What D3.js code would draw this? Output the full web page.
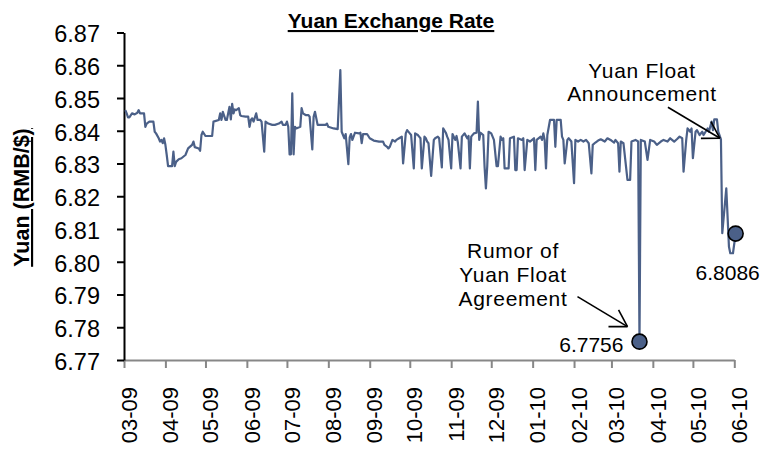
<!DOCTYPE html>
<html>
<head>
<meta charset="utf-8">
<script src="https://cdn.jsdelivr.net/npm/d3@7"></script>
<style>
  body { margin: 0; background: #fff; }
  svg text { font-family: "Liberation Sans", Arial, sans-serif; fill: #000; }
</style>
</head>
<body>
<svg id="chart" width="762" height="450"></svg>
<script>
// daily yuan rate, as [days since seriesStart, RMB per USD]
const seriesStart = "2009-03-01";
const seriesEnd = "2010-06-01";
const rateSeries = [
  [1,6.8463],[2,6.8453],[3,6.8441],[4,6.8441],[6,6.8453],[8,6.8450],[10,6.8455],[11,6.8463],[12,6.8453],[15,6.8453],
  [16,6.8412],[17,6.8422],[19,6.8428],[22,6.8428],[23,6.8397],[24,6.8392],[26,6.8377],[27,6.8367],[28,6.8372],[29,6.8362],
  [30,6.8377],[31,6.8357],[32,6.8326],[33,6.8292],[36,6.8292],[37,6.8336],[38,6.8292],[39,6.8305],[41,6.8313],[43,6.8316],
  [46,6.8326],[48,6.8346],[51,6.8357],[52,6.8367],[53,6.8350],[56,6.8346],[57,6.8339],[58,6.8387],[59,6.8397],[61,6.8384],
  [66,6.8384],[67,6.8428],[71,6.8433],[72,6.8453],[73,6.8433],[74,6.8458],[76,6.8433],[77,6.8433],[79,6.8473],[80,6.8435],
  [81,6.8482],[82,6.8453],[83,6.8465],[84,6.8463],[86,6.8469],[87,6.8448],[88,6.8445],[91,6.8443],[93,6.8443],[94,6.8412],
  [95,6.8433],[96,6.8438],[97,6.8428],[99,6.8453],[100,6.8433],[102,6.8433],[103,6.8428],[105,6.8336],[106,6.8428],[108,6.8422],
  [111,6.8418],[113,6.8418],[116,6.8422],[118,6.8428],[119,6.8418],[121,6.8418],[122,6.8428],[123,6.8412],[124,6.8328],[125,6.8328],
  [126,6.8514],[127,6.8328],[128,6.8412],[129,6.8407],[132,6.8412],[133,6.8469],[134,6.8453],[136,6.8448],[138,6.8448],[139,6.8443],
  [141,6.8343],[142,6.8443],[143,6.8458],[145,6.8418],[151,6.8418],[152,6.8422],[153,6.8412],[157,6.8407],[160,6.8405],[162,6.8585],
  [163,6.8397],[164,6.8387],[165,6.8377],[166,6.8390],[168,6.8298],[169,6.8380],[170,6.8390],[171,6.8372],[173,6.8394],[176,6.8392],
  [177,6.8394],[178,6.8362],[179,6.8390],[182,6.8390],[184,6.8377],[187,6.8370],[191,6.8367],[194,6.8367],[195,6.8357],[197,6.8351],
  [198,6.8346],[199,6.8351],[201,6.8372],[203,6.8367],[204,6.8372],[206,6.8377],[208,6.8382],[209,6.8300],[211,6.8392],[212,6.8402],
  [214,6.8392],[215,6.8387],[217,6.8285],[218,6.8392],[220,6.8387],[221,6.8382],[222,6.8377],[223,6.8285],[225,6.8382],[226,6.8377],
  [227,6.8367],[228,6.8362],[230,6.8262],[232,6.8372],[233,6.8377],[235,6.8382],[236,6.8377],[238,6.8288],[239,6.8407],[241,6.8394],
  [242,6.8382],[243,6.8372],[245,6.8285],[246,6.8390],[248,6.8372],[249,6.8384],[250,6.8364],[252,6.8285],[253,6.8382],[255,6.8392],
  [257,6.8377],[258,6.8384],[259,6.8285],[260,6.8382],[262,6.8392],[264,6.8394],[265,6.8489],[266,6.8372],[267,6.8394],[269,6.8387],
  [270,6.8290],[271,6.8224],[272,6.8292],[273,6.8397],[275,6.8392],[277,6.8372],[279,6.8292],[280,6.8292],[282,6.8382],[283,6.8372],
  [284,6.8377],[285,6.8285],[288,6.8285],[289,6.8377],[292,6.8382],[293,6.8280],[294,6.8280],[295,6.8377],[298,6.8372],[299,6.8377],
  [300,6.8280],[302,6.8372],[304,6.8367],[307,6.8377],[308,6.8280],[309,6.8372],[312,6.8382],[313,6.8372],[314,6.8392],[315,6.8372],
  [316,6.8285],[317,6.8387],[319,6.8433],[322,6.8433],[323,6.8351],[324,6.8433],[327,6.8433],[328,6.8382],[329,6.8372],[330,6.8300],
  [332,6.8372],[333,6.8377],[335,6.8367],[337,6.8240],[338,6.8372],[340,6.8367],[342,6.8372],[344,6.8367],[346,6.8372],[348,6.8362],
  [350,6.8270],[351,6.8357],[353,6.8364],[355,6.8370],[357,6.8374],[360,6.8367],[362,6.8377],[365,6.8370],[367,6.8364],[368,6.8372],
  [370,6.8362],[371,6.8275],[372,6.8367],[374,6.8362],[377,6.8250],[379,6.8250],[380,6.8367],[383,6.8372],[385,6.8367],[386,6.7756],
  [387,6.8372],[390,6.8367],[392,6.8311],[394,6.8372],[397,6.8367],[399,6.8357],[402,6.8367],[404,6.8372],[407,6.8367],[409,6.8377],
  [412,6.8367],[414,6.8374],[416,6.8382],[418,6.8377],[419,6.8275],[421,6.8372],[422,6.8407],[424,6.8397],[425,6.8407],[426,6.8316],
  [428,6.8397],[429,6.8402],[431,6.8387],[433,6.8397],[434,6.8387],[437,6.8407],[438,6.8397],[440,6.8428],[441,6.8402],[442,6.8435],
  [444,6.8435],[445,6.8397],[447,6.8374],[448,6.8087],[451,6.8224],[453,6.8046],[454,6.8026],[456,6.8026],[458,6.8086]
];

const monthLabels = ["03-09","04-09","05-09","06-09","07-09","08-09","09-09","10-09",
                     "11-09","12-09","01-10","02-10","03-10","04-10","05-10","06-10"];
const yTicks = [6.77, 6.78, 6.79, 6.80, 6.81, 6.82, 6.83, 6.84, 6.85, 6.86, 6.87];

// highlighted points (day index) and their annotations
const markedDays = [386, 458];
const rumorDay = 386, floatDay = 447;
const rumorLines = ["Rumor of", "Yuan Float", "Agreement"];
const floatLines = ["Yuan Float", "Announcement"];

const lineColor = "#4b6088";

const svg = d3.select("#chart");
svg.append("rect").attr("width", 762).attr("height", 450).attr("fill", "#fff");

const parse = d3.timeParse("%Y-%m-%d");
const t0 = parse(seriesStart), t1 = parse(seriesEnd);
const data = rateSeries.map(([d, v]) => ({day: d, date: d3.timeDay.offset(t0, d), value: v}));
const byDay = new Map(data.map(d => [d.day, d]));

const x = d3.scaleTime().domain([t0, t1]).range([124, 734.3]);
const y = d3.scaleLinear().domain([6.77, 6.87]).range([360, 32.5]);

// x axis (grey)
const months = d3.timeMonth.range(t0, d3.timeDay.offset(t1, 1));
const xAxis = svg.append("g")
    .attr("transform", "translate(0,360)")
    .call(d3.axisBottom(x).tickValues(months).tickSize(8).tickSizeOuter(0).tickFormat(() => ""));
xAxis.select(".domain").attr("stroke", "#878787").attr("stroke-width", 2);
xAxis.selectAll(".tick line").attr("stroke", "#878787").attr("stroke-width", 2);
xAxis.selectAll(".tick text").remove();

svg.append("g").selectAll("text")
    .data(months)
    .join("text")
    .attr("transform", d => `translate(${x(d) + 5},387) rotate(-90)`)
    .attr("dy", "0.35em")
    .attr("text-anchor", "end")
    .attr("font-size", 22)
    .text((d, i) => monthLabels[i]);

// y axis (black)
const yAxis = svg.append("g")
    .attr("transform", "translate(124,0)")
    .call(d3.axisLeft(y).tickValues(yTicks).tickFormat(d3.format(".2f"))
        .tickSize(7).tickSizeOuter(0).tickPadding(17));
yAxis.attr("font-family", null).attr("font-size", null);
yAxis.select(".domain").attr("stroke", "#000").attr("stroke-width", 2);
yAxis.selectAll(".tick line").attr("stroke", "#000").attr("stroke-width", 2);
yAxis.selectAll(".tick text").attr("font-size", 23.5).attr("dy", "0.4em");

// series
svg.append("path")
    .datum(data)
    .attr("fill", "none")
    .attr("stroke", lineColor)
    .attr("stroke-width", 2.2)
    .attr("stroke-linejoin", "round")
    .attr("d", d3.line().x(d => x(d.date)).y(d => y(d.value)));

svg.append("g").selectAll("circle")
    .data(markedDays.map(d => byDay.get(d)))
    .join("circle")
    .attr("cx", d => x(d.date))
    .attr("cy", d => y(d.value))
    .attr("r", 7.5)
    .attr("fill", lineColor)
    .attr("stroke", "#000")
    .attr("stroke-width", 1.6);

// titles
svg.append("text")
    .attr("x", 391).attr("y", 28)
    .attr("text-anchor", "middle")
    .attr("font-size", 21).attr("font-weight", "bold")
    .style("text-decoration", "underline")
    .text("Yuan Exchange Rate");

svg.append("text")
    .attr("transform", "translate(29,197.5) rotate(-90)")
    .attr("text-anchor", "middle")
    .attr("font-size", 21.5).attr("font-weight", "bold")
    .style("text-decoration", "underline")
    .text("Yuan (RMB/$)");

// annotations
function arrow(tip, tail) {
  const a = Math.atan2(tip[1] - tail[1], tip[0] - tail[0]) + Math.PI;
  const len = 19, spread = 31 * Math.PI / 180;
  const g = svg.append("g").attr("stroke", "#000").attr("stroke-width", 1.6).attr("fill", "none");
  g.append("line").attr("x1", tail[0]).attr("y1", tail[1]).attr("x2", tip[0]).attr("y2", tip[1]);
  [-spread, spread].forEach(s => {
    g.append("line")
      .attr("x1", tip[0]).attr("y1", tip[1])
      .attr("x2", tip[0] + len * Math.cos(a + s))
      .attr("y2", tip[1] + len * Math.sin(a + s));
  });
}

function label(lines, cx, y0, step) {
  svg.append("g").selectAll("text")
    .data(lines)
    .join("text")
    .attr("x", cx).attr("y", (d, i) => y0 + i * step)
    .attr("text-anchor", "middle")
    .attr("font-size", 21)
    .attr("letter-spacing", 0.7)
    .text(d => d);
}

const rumor = byDay.get(rumorDay), float = byDay.get(floatDay);
const rumorTip = [x(rumor.date) - 12, y(rumor.value) - 15];
arrow(rumorTip, [rumorTip[0] - 50, rumorTip[1] - 30]);
const floatTip = [x(float.date) - 1, y(float.value) - 1];
arrow(floatTip, [floatTip[0] - 52, floatTip[1] - 31]);

label(rumorLines, 513, 258, 24);
label(floatLines, 642, 77.5, 23.5);

svg.append("text")
    .attr("x", x(rumor.date) - 16).attr("y", y(rumor.value) + 10)
    .attr("text-anchor", "end").attr("font-size", 21)
    .text(rumor.value.toFixed(4));

const last = byDay.get(markedDays[1]);
svg.append("text")
    .attr("x", x(last.date) - 8).attr("y", y(last.value) + 46)
    .attr("text-anchor", "middle").attr("font-size", 21)
    .text(last.value.toFixed(4));
</script>
</body>
</html>
